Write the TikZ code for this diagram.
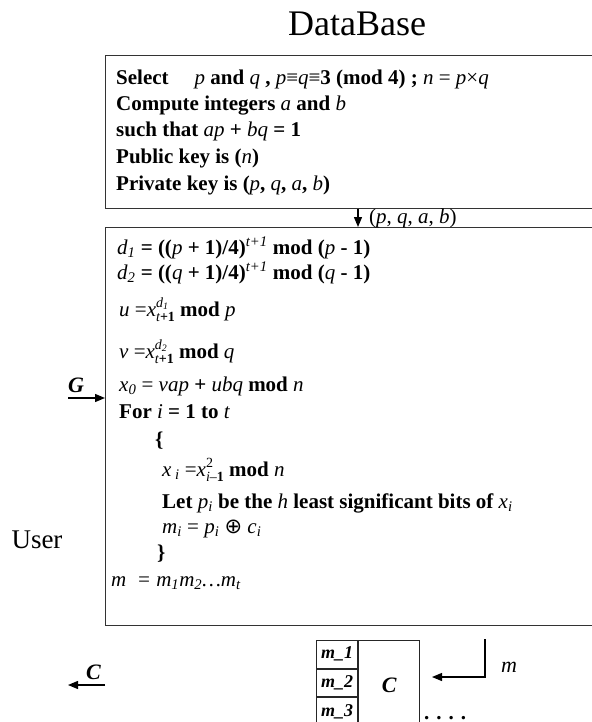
\documentclass[tikz,border=0pt]{standalone}
\usepackage{fontspec}
\setmainfont{Liberation Serif}
\newfontfamily\symfnt{DejaVu Sans}
\usetikzlibrary{arrows.meta,calc}
\newcommand\vv[1]{{\mdseries\itshape #1}}
\newcommand\mysub[1]{\textsubscript{#1}}
\newcommand\mysup[1]{\textsuperscript{#1}}
\newcommand\mysupsub[2]{\rlap{\raisebox{9pt}{\fontsize{14}{14}\selectfont #1}}\raisebox{-5pt}{\fontsize{14}{14}\selectfont #2}}
\tikzset{
  boxline/.style={draw=black!80, line width=1.3pt},
  bigbox/.style={boxline, anchor=north west, inner sep=0pt, minimum width=520pt},
  txt/.style={anchor=base west, inner sep=0pt, font=\fontsize{21}{26}\selectfont\bfseries},
  arr/.style={draw=black, line width=1.3pt, -{Triangle[length=10pt,width=8pt]}},
  cell/.style={draw=black!85, line width=1.1pt, anchor=north west, inner sep=0pt,
     minimum width=41pt, minimum height=27.5pt,
     font=\fontsize{18}{20}\selectfont\bfseries\itshape},
}
\begin{document}
\begin{tikzpicture}[x=1pt,y=-1pt]
\useasboundingbox (0,0) rectangle (591,722);
% title
\node[inner sep=0pt, font=\fontsize{36}{40}\selectfont] (title) at (357,24) {DataBase};
% boxes
\node[bigbox, minimum height=153pt] (db) at (105,55) {};
\node[bigbox, minimum height=398pt] (dec) at (105,227) {};
% top box text
\node[txt] (s1) at (116,85) {Select\hspace{26pt}\vv{p} and \vv{q} , \vv{p}{\mdseries≡}\vv{q}{\mdseries≡}3 (mod 4) ; \vv{n} {\mdseries=} \vv{p}{\mdseries×}\vv{q}};
\node[txt] (s2) at (116,111) {Compute integers \vv{a} and \vv{b}};
\node[txt] (s3) at (116,137) {such that \vv{ap} + \vv{bq} = 1};
\node[txt] (s4) at (116,164) {Public key is (\vv{n})};
\node[txt] (s5) at (116,190) {Private key is (\vv{p}, \vv{q}, \vv{a}, \vv{b})};
% arrow between boxes
\coordinate (ax) at (358,0);
\draw[arr] (db.south -| ax) -- (dec.north -| ax);
\node[anchor=base west, inner sep=0pt, font=\fontsize{21}{26}\selectfont] (keys) at (369,223) {(\vv{p}, \vv{q}, \vv{a}, \vv{b})};
% lower box text
\node[txt] (d1) at (117,254) {\vv{d\mysub{1}} = ((\vv{p} + 1)/4)\mysup{\vv{t+1}} mod (\vv{p} - 1)};
\node[txt] (d2) at (117,279) {\vv{d\mysub{2}} = ((\vv{q} + 1)/4)\mysup{\vv{t+1}} mod (\vv{q} - 1)};
\node[txt] (u) at (119,316) {\vv{u} {\mdseries=}\vv{x}\mysupsub{\vv{d}\mysub{\vv{1}}}{\vv{t}+1} mod \vv{p}};
\node[txt] (v) at (119,358) {\vv{v} {\mdseries=}\vv{x}\mysupsub{\vv{d}\mysub{\vv{2}}}{\vv{t}+1} mod \vv{q}};
\node[txt] (x0) at (119,391) {\vv{x\mysub{0}} {\mdseries=} \vv{vap} + \vv{ubq} mod \vv{n}};
\node[txt] (for) at (119,418) {For \vv{i} = 1 to \vv{t}};
\node[txt] (ob) at (155,446) {\{};
\node[txt] (xi) at (162,476) {\vv{x}\,\mysub{\vv{i}} {\mdseries=}\vv{x}\mysupsub{\mdseries 2}{\vv{i}{\mdseries–}1} mod \vv{n}};
\node[txt] (let) at (162,508) {Let \vv{p\mysub{i}} be the \vv{h} least significant bits of \vv{x\mysub{i}}};
\node[txt] (mi) at (162,533) {\vv{m\mysub{i}} {\mdseries=} \vv{p\mysub{i}} {\mdseries\symfnt ⊕} \vv{c\mysub{i}}};
\node[txt] (cb) at (157,559) {\}};
\node[txt] (mm) at (111,586) {\vv{m\ \ = m\mysub{1}m\mysub{2}\ldots m\mysub{t}}};
% user side
\node[inner sep=0pt, font=\fontsize{27}{30}\selectfont] (user) at (37,540) {User};
\coordinate (gs) at (68,398);
\draw[arr] (gs) -- (gs -| dec.west);
\node[anchor=base west, inner sep=0pt, font=\fontsize{22}{24}\selectfont\bfseries\itshape] (glab) at (68,392) {G};
\coordinate (ce) at (68,685);
\draw[arr] (ce -| dec.west) -- (ce);
\node[anchor=base west, inner sep=0pt, font=\fontsize{22}{24}\selectfont\bfseries\itshape] (clab) at (86,679) {C};
% table
\node[cell] (m1) at (316,640) {m\_1};
\node[cell] (m2) at (m1.south west) {m\_2};
\node[cell, minimum height=29pt] (m3) at (m2.south west) {m\_3};
\node[cell, minimum width=61pt, minimum height=90pt, font=\fontsize{22}{24}\selectfont\bfseries\itshape] (cc) at (m1.north east) {C};
% m arrow
\coordinate (mtop) at (485,639);
\coordinate (mtip) at (432,677);
\draw[arr, line width=1.2pt] (mtop) |- (mtip);
\node[inner sep=0pt, font=\fontsize{22}{24}\selectfont\itshape] (mlab) at (509,667) {m};
\node[anchor=base west, inner sep=0pt, font=\fontsize{21}{24}\selectfont\bfseries] (dots) at (424,719) {. . . .};
\end{tikzpicture}
\end{document}
